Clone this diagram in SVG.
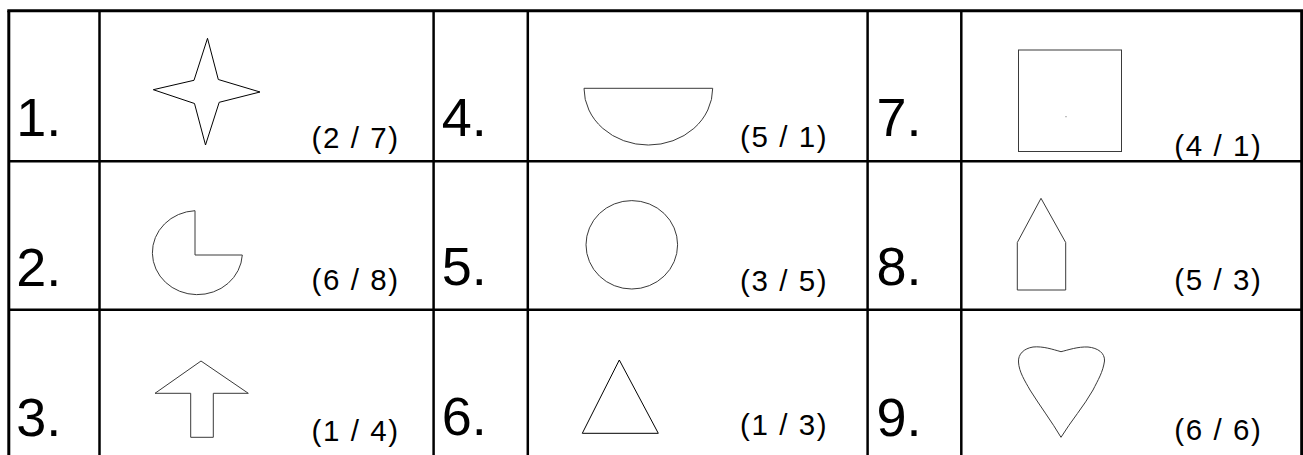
<svg xmlns="http://www.w3.org/2000/svg" width="1303" height="455" viewBox="0 0 1303 455">
<style>
.num{font-family:"Liberation Sans",Arial,sans-serif;font-size:54px;fill:#000}
.lbl{font-family:"Liberation Sans",Arial,sans-serif;font-size:29.5px;fill:#000}
.shp{fill:#fff;stroke:#3a3a3a;stroke-width:1}
.shk{fill:#fff;stroke:#000;stroke-width:1}
.grid line{stroke:#000;stroke-width:2.5}
.grid .outer{stroke-width:3}
</style>
<rect width="1303" height="455" fill="#fff"/>
<g id="grid" class="grid">
<line class="outer" x1="7.3" y1="10.8" x2="1303" y2="10.8"/>
<line class="outer" x1="8.8" y1="10.8" x2="8.8" y2="460"/>
<line class="outer" x1="1301.7" y1="10.8" x2="1301.7" y2="460"/>
<line x1="99.5" y1="10.8" x2="99.5" y2="460"/>
<line x1="433.6" y1="10.8" x2="433.6" y2="460"/>
<line x1="527.8" y1="10.8" x2="527.8" y2="460"/>
<line x1="867.6" y1="10.8" x2="867.6" y2="460"/>
<line x1="961.3" y1="10.8" x2="961.3" y2="460"/>
<line x1="8.8" y1="161.2" x2="1301.7" y2="161.2"/>
<line x1="8.8" y1="309.8" x2="1301.7" y2="309.8"/>
</g>
<g id="connectors"/>
<g id="cell1">
<text class="num" x="16.2" y="136">1.</text>
<polygon class="shk" points="207.5,38.3 218.3,79.5 260,92 219.2,102.3 205.5,145 194.5,103.5 153.3,89.7 194,80.3"/>
<text class="lbl" x="311.5" y="147.5" textLength="86.5" lengthAdjust="spacing">(2 / 7)</text>
</g>
<g id="cell2">
<text class="num" x="16.2" y="286">2.</text>
<path class="shp" d="M195,210.7 L195,255 L242.3,255 A45,42 0 1 1 195,210.7 Z"/>
<text class="lbl" x="311.5" y="290" textLength="86.5" lengthAdjust="spacing">(6 / 8)</text>
</g>
<g id="cell3">
<text class="num" x="16.2" y="435.5">3.</text>
<polygon class="shp" points="201,361 248.3,393.3 213.3,393.3 213.3,437.3 190.7,437.3 190.7,393.3 155,393.3"/>
<text class="lbl" x="311.5" y="441" textLength="86.5" lengthAdjust="spacing">(1 / 4)</text>
</g>
<g id="cell4">
<text class="num" x="441.7" y="136">4.</text>
<path class="shp" d="M584,88.3 L712.7,88.3 A64.3,56.7 0 0 1 584,88.3 Z"/>
<text class="lbl" x="740" y="147" textLength="86.5" lengthAdjust="spacing">(5 / 1)</text>
</g>
<g id="cell5">
<text class="num" x="441.7" y="284.5">5.</text>
<ellipse class="shp" cx="631.8" cy="244.8" rx="45.8" ry="44.2"/>
<text class="lbl" x="740" y="291" textLength="86.5" lengthAdjust="spacing">(3 / 5)</text>
</g>
<g id="cell6">
<text class="num" x="441.7" y="434.5">6.</text>
<polygon class="shk" points="619.3,360 658.3,433.3 582.3,433.3"/>
<text class="lbl" x="740" y="435" textLength="86.5" lengthAdjust="spacing">(1 / 3)</text>
</g>
<g id="cell7">
<text class="num" x="876.5" y="136">7.</text>
<rect class="shp" x="1018.5" y="50" width="103" height="101.5"/>
<circle cx="1066" cy="116.7" r="0.6" fill="#777"/>
<text class="lbl" x="1174.3" y="156" textLength="86.5" lengthAdjust="spacing">(4 / 1)</text>
</g>
<g id="cell8">
<text class="num" x="876.5" y="285">8.</text>
<polygon class="shp" points="1041,198.3 1065.7,242.5 1065.7,290 1017.3,290 1017.3,242.5"/>
<text class="lbl" x="1174.3" y="290" textLength="86.5" lengthAdjust="spacing">(5 / 3)</text>
</g>
<g id="cell9">
<text class="num" x="876.5" y="435.5">9.</text>
<path class="shp" d="M1061,351.7 C1068,350 1078,346.5 1088,347 C1098,348 1105,353 1104.5,361 C1103,372 1098,380 1093,390 C1084,406 1071,421 1061,437.3 C1052,422 1040,406 1030,390 C1025,381 1019,372 1018.5,362 C1018,354 1024,348.5 1033,347 C1043,346 1053,349.5 1061,351.7 Z"/>
<text class="lbl" x="1174.3" y="440" textLength="86.5" lengthAdjust="spacing">(6 / 6)</text>
</g>
</svg>
